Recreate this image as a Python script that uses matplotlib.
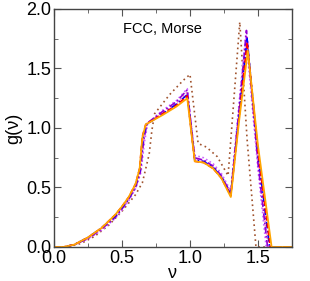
import matplotlib
matplotlib.use("Agg")
import matplotlib.pyplot as plt

plt.rcParams['font.family'] = ['Liberation Sans', 'DejaVu Sans']

# Series data: frequency nu and density g(nu)
x_orange = [0.0, 0.07, 0.15, 0.25, 0.35, 0.45, 0.5, 0.55, 0.6, 0.63, 0.65, 0.675, 0.8, 0.9, 0.98, 1.035, 1.1, 1.17, 1.23, 1.30, 1.36, 1.425, 1.5, 1.6, 1.75]
y_orange = [0.0, 0.0, 0.02, 0.08, 0.16, 0.27, 0.34, 0.42, 0.53, 0.66, 0.92, 1.03, 1.11, 1.18, 1.25, 0.72, 0.71, 0.66, 0.58, 0.42, 1.05, 1.65, 0.85, 0.0, 0.0]

x_red = [0.0, 0.07, 0.15, 0.25, 0.35, 0.45, 0.5, 0.55, 0.6, 0.63, 0.65, 0.675, 0.8, 0.9, 0.98, 1.035, 1.1, 1.17, 1.23, 1.30, 1.36, 1.42, 1.5, 1.59, 1.75]
y_red = [0.0, 0.0, 0.02, 0.08, 0.16, 0.27, 0.34, 0.42, 0.53, 0.66, 0.93, 1.03, 1.12, 1.19, 1.27, 0.72, 0.71, 0.66, 0.58, 0.43, 1.08, 1.72, 0.8, 0.0, 0.0]

x_blue = [0.0, 0.07, 0.15, 0.25, 0.35, 0.45, 0.5, 0.55, 0.6, 0.63, 0.655, 0.68, 0.8, 0.9, 0.98, 1.035, 1.1, 1.17, 1.23, 1.30, 1.36, 1.42, 1.5, 1.585, 1.75]
y_blue = [0.0, 0.0, 0.02, 0.08, 0.16, 0.26, 0.33, 0.41, 0.52, 0.64, 0.92, 1.03, 1.12, 1.2, 1.28, 0.73, 0.72, 0.67, 0.59, 0.44, 1.1, 1.75, 0.78, 0.0, 0.0]

x_purple = [0.0, 0.07, 0.15, 0.25, 0.35, 0.45, 0.5, 0.55, 0.6, 0.635, 0.66, 0.685, 0.8, 0.9, 0.98, 1.035, 1.1, 1.17, 1.23, 1.30, 1.36, 1.415, 1.5, 1.57, 1.75]
y_purple = [0.0, 0.0, 0.02, 0.07, 0.15, 0.25, 0.32, 0.4, 0.5, 0.63, 0.9, 1.04, 1.14, 1.22, 1.32, 0.75, 0.73, 0.68, 0.6, 0.45, 1.15, 1.82, 0.7, 0.0, 0.0]

x_violet = [0.0, 0.07, 0.15, 0.25, 0.35, 0.45, 0.5, 0.55, 0.6, 0.64, 0.665, 0.69, 0.8, 0.9, 0.98, 1.035, 1.1, 1.17, 1.23, 1.30, 1.36, 1.41, 1.5, 1.56, 1.75]
y_violet = [0.0, 0.0, 0.02, 0.07, 0.14, 0.24, 0.31, 0.39, 0.49, 0.63, 0.88, 1.04, 1.15, 1.23, 1.33, 0.77, 0.75, 0.7, 0.62, 0.47, 1.2, 1.78, 0.65, 0.0, 0.0]

x_pink = [0.0, 0.07, 0.15, 0.25, 0.35, 0.45, 0.5, 0.55, 0.6, 0.635, 0.66, 0.685, 0.8, 0.9, 0.98, 1.035, 1.1, 1.17, 1.23, 1.30, 1.36, 1.415, 1.5, 1.575, 1.75]
y_pink = [0.0, 0.0, 0.02, 0.07, 0.15, 0.25, 0.32, 0.4, 0.5, 0.63, 0.9, 1.04, 1.13, 1.21, 1.3, 0.74, 0.73, 0.68, 0.6, 0.45, 1.12, 1.76, 0.72, 0.0, 0.0]

x_brown = [0.0, 0.1, 0.2, 0.3, 0.4, 0.5, 0.55, 0.6, 0.65, 0.7, 0.72, 0.74, 0.85, 0.95, 1.0, 1.06, 1.12, 1.2, 1.28, 1.366, 1.42, 1.485, 1.75]
y_brown = [0.0, 0.0, 0.03, 0.09, 0.18, 0.3, 0.37, 0.44, 0.54, 0.78, 0.98, 1.12, 1.28, 1.4, 1.45, 0.87, 0.84, 0.76, 0.6, 1.89, 0.9, 0.0, 0.0]

series = [
    (x_brown, y_brown, '#a0522d', (0, (1, 2)), 1.2),
    (x_pink, y_pink, '#ff80c0', (0, (1, 1.5)), 1.2),
    (x_violet, y_violet, '#cc66ff', (0, (1, 1.5)), 1.2),
    (x_purple, y_purple, '#9400d3', (0, (4, 1.5, 1, 1.5)), 1.2),
    (x_blue, y_blue, '#0000ff', (0, (4, 1.5, 1, 1.5)), 1.2),
    (x_red, y_red, '#ff0000', (0, (3, 1.5)), 1.2),
    (x_orange, y_orange, '#ffa500', '-', 1.3),
]

xticks = [0.0, 0.5, 1.0, 1.5]
yticks = [0.0, 0.5, 1.0, 1.5, 2.0]

fig = plt.figure(figsize=(3.1, 2.81), dpi=100)
ax = fig.add_axes([0.174, 0.121, 0.768, 0.847])

for xs, ys, c, ls, lw in series:
    ax.plot(xs, ys, color=c, linestyle=ls, linewidth=lw)

ax.set_xlim(0, 1.75)
ax.set_ylim(0, 2.0)
ax.set_xticks(xticks)
ax.set_xticklabels([f"{v:.1f}" for v in xticks])
ax.set_yticks(yticks)
ax.set_yticklabels([f"{v:.1f}" for v in yticks])
ax.set_xticks([0.25, 0.75, 1.25], minor=True)
ax.set_yticks([0.25, 0.75, 1.25, 1.75], minor=True)
ax.tick_params(which='both', direction='in', top=True, right=True, color='#555555')
ax.tick_params(which='major', length=5, labelsize=13, pad=2)
ax.tick_params(which='minor', length=3)
for s in ax.spines.values():
    s.set_color('#444444')
    s.set_linewidth(1.0)

ax.set_xlabel('ν', fontsize=13, labelpad=-1)
ax.set_ylabel('g(ν)', fontsize=13, labelpad=3)
ax.text(0.80, 1.83, 'FCC, Morse', fontsize=10.5, ha='center', va='center')

fig.savefig('out.png', dpi=100)
